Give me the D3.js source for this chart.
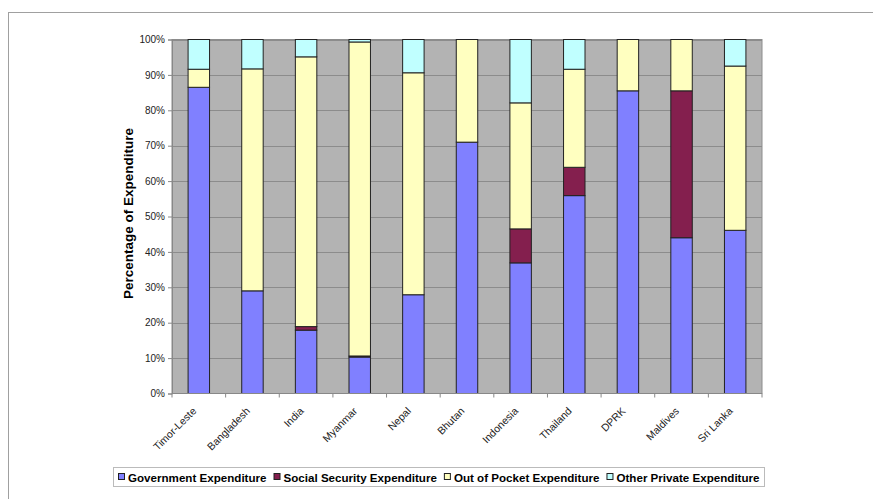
<!DOCTYPE html>
<html><head><meta charset="utf-8">
<script src="https://cdn.jsdelivr.net/npm/d3@7"></script>
<style>body{margin:0;background:#fff;} svg{display:block;font-family:Arial,"Liberation Sans",sans-serif;}</style>
</head><body>
<svg id="c" width="873" height="499"></svg>
<script>
const categories = ["Timor-Leste","Bangladesh","India","Myanmar","Nepal","Bhutan","Indonesia","Thailand","DPRK","Maldives","Sri Lanka"];
const seriesNames = ["Government Expenditure","Social Security Expenditure","Out of Pocket Expenditure","Other Private Expenditure"];
const government = [86.5, 29.0, 17.9, 10.3, 27.9, 71.0, 36.9, 55.9, 85.5, 44.0, 46.1];
const socialSecurity = [0, 0, 1.0, 0.3, 0, 0, 9.6, 8.0, 0, 41.5, 0];
const outOfPocket = [5.1, 62.7, 76.2, 88.7, 62.7, 29.0, 35.6, 27.7, 14.5, 14.5, 46.4];
const otherPrivate = [8.4, 8.3, 4.9, 0.7, 9.4, 0, 17.9, 8.4, 0, 0, 7.5];
const yTicks = [0,10,20,30,40,50,60,70,80,90,100];
const colors = ["#8080FF","#841F4E","#FFFFC0","#C0FFFF"];

const svg = d3.select("#c");
// outer chart border
svg.append("rect").attr("x",8.5).attr("y",12.5).attr("width",900).attr("height",600)
  .attr("fill","#fff").attr("stroke","#a0a0a0").attr("stroke-width",1);

const L=172, R=762, T=39.5, B=393.5;
const x = d3.scaleBand().domain(categories).range([L,R]).paddingInner(0.6).paddingOuter(0.3);
const xb = d3.scaleBand().domain(categories).range([L,R]);
const y = d3.scaleLinear().domain([0,100]).range([B,T]);

svg.append("rect").attr("x",L).attr("y",T).attr("width",R-L).attr("height",B-T).attr("fill","#B3B3B3");
// gridlines
svg.append("g").selectAll("line").data(yTicks.slice(1)).join("line")
  .attr("x1",L).attr("x2",R).attr("y1",d=>Math.round(y(d))+0.5).attr("y2",d=>Math.round(y(d))+0.5)
  .attr("stroke","#8c8c8c").attr("stroke-width",1);
svg.append("rect").attr("x",L).attr("y",T).attr("width",R-L).attr("height",B-T)
  .attr("fill","none").attr("stroke","#8c8c8c");

const rows = categories.map((c,i)=>({cat:c, v:[government[i],socialSecurity[i],outOfPocket[i],otherPrivate[i]]}));
const stackData = rows.map(r=>{const o={cat:r.cat}; seriesNames.forEach((s,j)=>o[s]=r.v[j]); return o;});
const stack = d3.stack().keys(seriesNames)(stackData);
stack.forEach((layer,j)=>{
  svg.append("g").selectAll("rect").data(layer.filter(d=>d[1]-d[0]>0)).join("rect")
    .attr("x",d=>x(d.data.cat)).attr("width",x.bandwidth())
    .attr("y",d=>y(d[1])).attr("height",d=>y(d[0])-y(d[1]))
    .attr("fill",colors[j]).attr("stroke","#222").attr("stroke-width",1);
});

// y axis
const ya = svg.append("g").attr("transform",`translate(${L},0)`)
  .call(d3.axisLeft(y).tickValues(yTicks).tickFormat(d=>d+"%").tickSize(4).tickPadding(3));
ya.select(".domain").attr("stroke","#888");
ya.selectAll(".tick line").attr("stroke","#888");
ya.selectAll("text").attr("font-size",10).attr("fill","#222").attr("font-family","Arial, Liberation Sans");

// x axis
const xa = svg.append("g").attr("transform",`translate(0,${B})`);
xa.append("line").attr("x1",L).attr("x2",R).attr("stroke","#888");
xa.selectAll("line.t").data(categories.concat(["__end"])).join("line").attr("class","t")
  .attr("x1",(d,i)=>L+i*xb.step()).attr("x2",(d,i)=>L+i*xb.step()).attr("y1",0).attr("y2",4).attr("stroke","#888");
xa.selectAll("text").data(categories).join("text")
  .attr("transform",d=>`translate(${xb(d)+xb.bandwidth()/2-7},13) rotate(-45)`)
  .attr("text-anchor","end").attr("dy","0.7em").attr("font-size",10.5).attr("fill","#222").text(d=>d);

// y title
svg.append("text").attr("transform",`translate(133,${213.5}) rotate(-90)`)
  .attr("text-anchor","middle").attr("font-size",13.5).attr("font-weight","bold").text("Percentage of Expenditure");

// legend
const lg = svg.append("g");
lg.append("rect").attr("x",113.5).attr("y",467.5).attr("width",651).attr("height",19).attr("fill","#fff").attr("stroke","#bbb");
let lx = 118;
seriesNames.forEach((s,j)=>{
  lg.append("rect").attr("x",lx+0.5).attr("y",473.5).attr("width",6).attr("height",6).attr("fill",colors[j]).attr("stroke","#222");
  const t = lg.append("text").attr("x",lx+10).attr("y",481.5).attr("font-size",11.6).attr("font-weight","bold").text(s);
  lx += 10 + t.node().getComputedTextLength() + 7;
});
</script>
</body></html>
